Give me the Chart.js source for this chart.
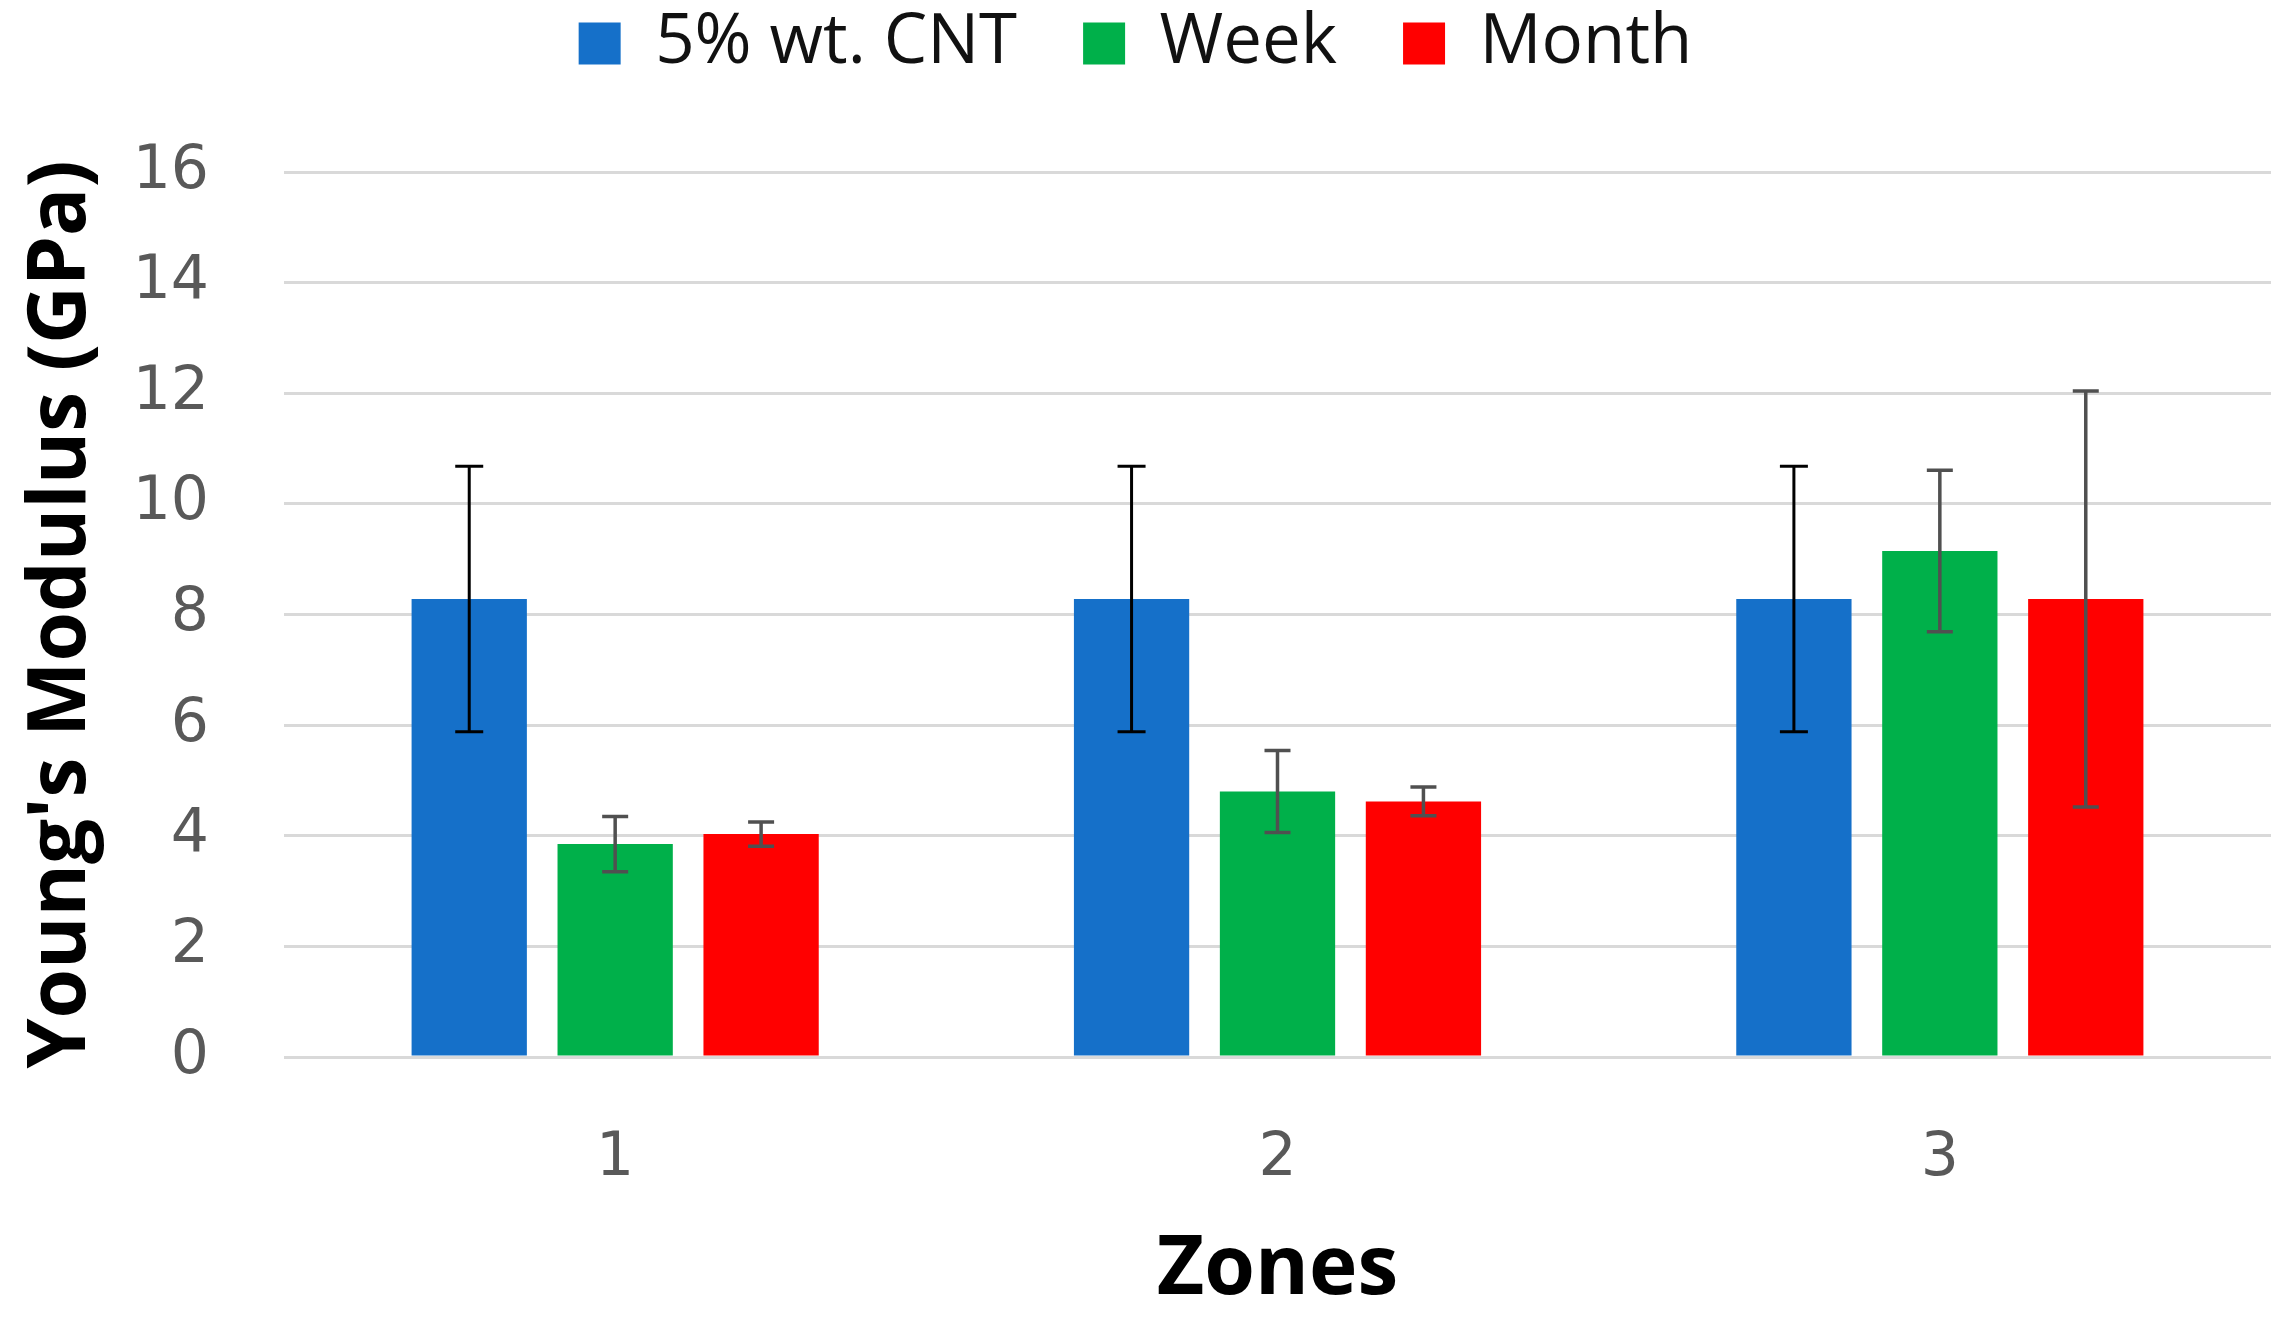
<!DOCTYPE html>
<html><head><meta charset="utf-8">
<script src="https://cdn.jsdelivr.net/npm/chart.js@4"></script>
<style>html,body{margin:0;padding:0;background:#fff;overflow:hidden}</style>
</head><body>
<canvas id="c" width="2287" height="1320" style="width:2287px;height:1320px;display:block"></canvas>
<script>
const categories = ['1', '2', '3'];
const seriesNames = ['5% wt. CNT', 'Week', 'Month'];
const cntValues = [8.28, 8.28, 8.28];
const cntErrors = [2.40, 2.40, 2.40];
const weekValues = [3.85, 4.80, 9.15];
const weekErrors = [0.50, 0.74, 1.46];
const monthValues = [4.03, 4.62, 8.28];
const monthErrors = [0.22, 0.26, 3.76];
const yTickMin = 0, yTickMax = 16, yTickStep = 2;

const errorBars = {
  id: 'errorBars',
  afterDatasetsDraw(chart) {
    const ctx = chart.ctx, y = chart.scales.y;
    chart.data.datasets.forEach((ds, i) => {
      const meta = chart.getDatasetMeta(i);
      if (meta.hidden) return;
      meta.data.forEach((bar, j) => {
        const v = ds.data[j], e = ds.errors[j];
        const yt = y.getPixelForValue(v + e), yb = y.getPixelForValue(v - e);
        const x = bar.x, cap = ds.capHalf;
        ctx.save();
        ctx.strokeStyle = ds.errorColor;
        ctx.lineWidth = ds.errorWidth;
        ctx.beginPath();
        ctx.moveTo(x, yt); ctx.lineTo(x, yb);
        ctx.moveTo(x - cap, yt); ctx.lineTo(x + cap, yt);
        ctx.moveTo(x - cap, yb); ctx.lineTo(x + cap, yb);
        ctx.stroke();
        ctx.restore();
      });
    });
  }
};

const legendSpace = {
  id: 'legendSpace',
  beforeInit(chart) {
    const lg = chart.legend;
    if (lg) {
      const f = lg.fit;
      lg.fit = function () { f.call(this); this.height = 229; };
    }
  }
};

new Chart(document.getElementById('c'), {
  type: 'bar',
  data: {
    labels: categories,
    datasets: [
      { label: seriesNames[0], data: cntValues, errors: cntErrors, backgroundColor: '#1570C9', errorColor: '#000000', errorWidth: 3, capHalf: 14 },
      { label: seriesNames[1], data: weekValues, errors: weekErrors, backgroundColor: '#00B04A', errorColor: '#505050', errorWidth: 3.5, capHalf: 13 },
      { label: seriesNames[2], data: monthValues, errors: monthErrors, backgroundColor: '#FF0000', errorColor: '#505050', errorWidth: 3.5, capHalf: 13 }
    ]
  },
  options: {
    responsive: false,
    animation: false,
    devicePixelRatio: 1,
    layout: { padding: { top: -57, right: 16, bottom: 0, left: 0 } },
    datasets: { bar: { categoryPercentage: 0.661, barPercentage: 0.79 } },
    plugins: {
      legend: {
        position: 'top',
        labels: {
          boxWidth: 42, boxHeight: 42, padding: 66,
          color: '#111111',
          font: { family: 'Open Sans', size: 69 }
        }
      },
      tooltip: { enabled: false }
    },
    scales: {
      x: {
        grid: { display: false },
        border: { display: false },
        ticks: { color: '#595959', padding: 58, font: { family: 'DejaVu Sans', size: 60 } },
        title: { display: true, text: 'Zones', color: '#000000', padding: { top: -6, bottom: 0 }, font: { family: 'Open Sans', size: 82, weight: 'bold' } },
        afterFit(s) { s.height = 263; }
      },
      y: {
        min: yTickMin, max: yTickMax,
        ticks: { stepSize: yTickStep, color: '#595959', padding: 75, font: { family: 'DejaVu Sans', size: 60 } },
        grid: { color: '#D9D9D9', lineWidth: 3, drawTicks: false },
        border: { display: false },
        title: { display: true, text: "Young's Modulus (GPa)", color: '#000000', padding: { top: 14, bottom: 0 }, font: { family: 'Open Sans', size: 80, weight: 'bold' } },
        afterFit(s) { s.width = 284; }
      }
    }
  },
  plugins: [errorBars, legendSpace]
});
</script>
</body></html>
